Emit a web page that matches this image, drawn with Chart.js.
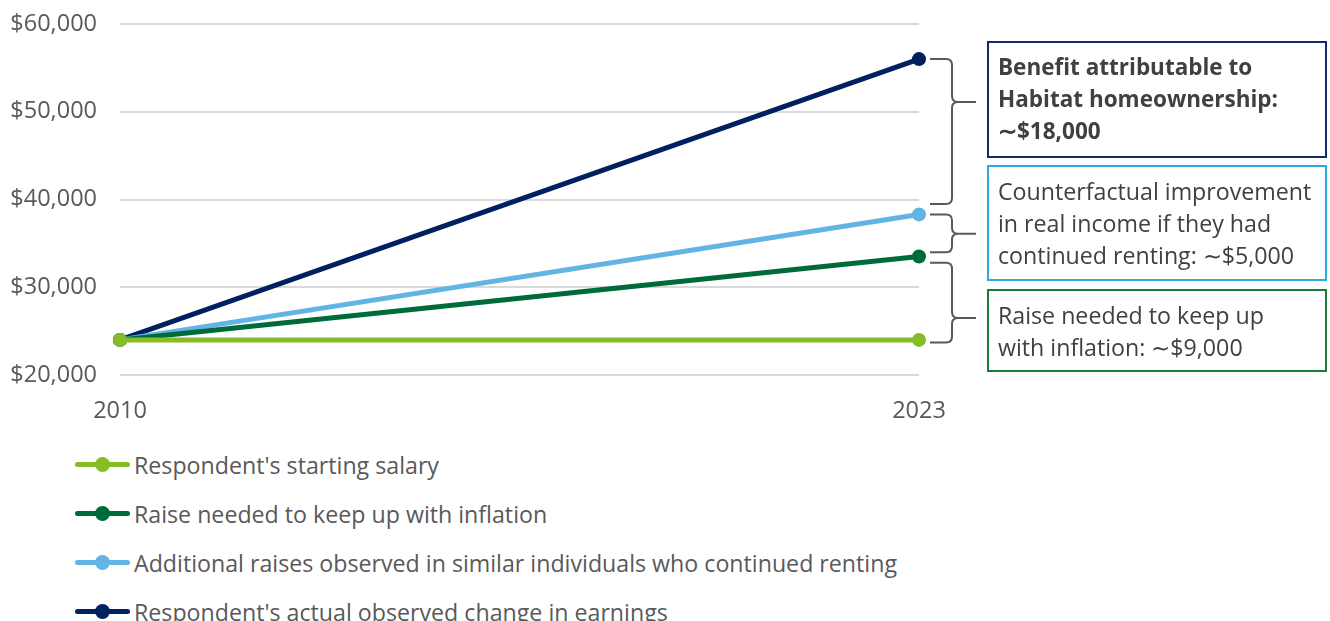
<!DOCTYPE html>
<html>
<head>
<meta charset="utf-8">
<script src="https://cdn.jsdelivr.net/npm/chart.js@4"></script>
<style>
  html, body { margin: 0; padding: 0; background: #fff; }
  body { width: 1330px; height: 621px; position: relative; overflow: hidden; font-family: "Open Sans", "Noto Sans", sans-serif; }
  #wrap { position: absolute; left: 0; top: 0; width: 1330px; height: 430px; }
  .box { position: absolute; left: 987px; width: 340px; box-sizing: border-box; padding: 8px 0 0 9px;
         font-size: 23.2px; line-height: 32px; color: #404040; white-space: nowrap; }
  #legend { position: absolute; left: 75px; top: 440px; font-size: 23.2px; color: #595959; }
  .item { height: 49px; display: flex; align-items: center; }
  .item .mk { position: relative; width: 55px; height: 5px; border-radius: 3px; margin-right: 4px; }
  .item .mk span { position: absolute; left: 20px; top: -5px; width: 15px; height: 15px; border-radius: 50%; }
</style>
</head>
<body>
<div id="wrap"><canvas id="myChart"></canvas></div>

<div class="box" style="top:41px;height:117px;border:2px solid #13296b;font-weight:bold;font-size:22.5px;">
  Benefit attributable to<br>Habitat homeownership:<br>∼$18,000
</div>
<div class="box" style="top:165px;height:116px;border:2px solid #29abe2;">
  Counterfactual improvement<br>in real income if they had<br>continued renting: ∼$5,000
</div>
<div class="box" style="top:289px;height:83px;border:2px solid #1d7a3e;">
  Raise needed to keep up<br>with inflation: ∼$9,000
</div>

<div id="legend"></div>

<script>
// data
const years = ['2010', '2023'];
const startingSalary = [24000, 24000];
const inflationRaise = [24000, 33500];
const renterRaise = [24000, 38300];
const actualEarnings = [24000, 56000];
const yTicks = [20000, 30000, 40000, 50000, 60000];

const seriesNames = [
    "Respondent's starting salary",
    "Raise needed to keep up with inflation",
    "Additional raises observed in similar individuals who continued renting",
    "Respondent's actual observed change in earnings"
];
const seriesColors = ['#86bc25', '#006b3a', '#62b4e4', '#002060'];

// braces on the right: [top value, bottom value, tip value]
const braces = [
    [56000, 39500, 51100],
    [38300, 34000, 36100],
    [32800, 23700, 26500]
];

function makeSet(i, values) {
    return {
        label: seriesNames[i],
        data: values,
        borderColor: seriesColors[i],
        backgroundColor: seriesColors[i],
        borderWidth: 5,
        pointRadius: 7,
        pointHoverRadius: 7,
        pointBorderWidth: 0,
        tension: 0
    };
}

// draws curly braces next to the 2023 points
const bracePlugin = {
    id: 'braces',
    afterDraw(chart) {
        const c = chart.ctx;
        const y = chart.scales.y;
        const x0 = chart.chartArea.right + 11;
        const xv = x0 + 22;
        const xt = xv + 24;
        const r = 6;
        c.save();
        c.strokeStyle = '#595959';
        c.lineWidth = 2;
        braces.forEach(b => {
            const top = y.getPixelForValue(b[0]);
            const bot = y.getPixelForValue(b[1]);
            const tip = y.getPixelForValue(b[2]);
            c.beginPath();
            c.moveTo(x0, top);
            c.lineTo(xv - r, top);
            c.quadraticCurveTo(xv, top, xv, top + r);
            c.lineTo(xv, tip - r);
            c.quadraticCurveTo(xv, tip, xv + r, tip);
            c.lineTo(xt, tip);
            c.moveTo(xv + r, tip);
            c.quadraticCurveTo(xv, tip, xv, tip + r);
            c.lineTo(xv, bot - r);
            c.quadraticCurveTo(xv, bot, xv - r, bot);
            c.lineTo(x0, bot);
            c.stroke();
        });
        c.restore();
    }
};

const ctx = document.getElementById('myChart');
new Chart(ctx, {
    type: 'line',
    data: {
        labels: years,
        datasets: [
            makeSet(0, startingSalary),
            makeSet(1, inflationRaise),
            makeSet(2, renterRaise),
            makeSet(3, actualEarnings)
        ]
    },
    options: {
        responsive: true,
        maintainAspectRatio: false,
        animation: false,
        layout: { padding: { top: 24, right: 411, left: 0, bottom: 0 } },
        scales: {
            y: {
                min: yTicks[0],
                max: yTicks[yTicks.length - 1],
                afterBuildTicks: s => { s.ticks = yTicks.map(v => ({ value: v })); },
                afterFit: s => { s.width = 120; s.paddingTop = 0; s.paddingBottom = 0; },
                border: { display: false },
                grid: { color: '#d9d9d9', lineWidth: 2, drawTicks: false },
                ticks: {
                    padding: 23,
                    color: '#595959',
                    font: { family: 'Open Sans', size: 23.5 },
                    callback: v => '$' + v.toLocaleString('en-US')
                }
            },
            x: {
                offset: false,
                afterFit: s => { s.height = 55; },
                border: { display: false },
                grid: { display: false, drawTicks: false },
                ticks: {
                    padding: 22,
                    color: '#595959',
                    maxRotation: 0,
                    font: { family: 'Open Sans', size: 23.5 }
                }
            }
        },
        plugins: {
            legend: { display: false },
            tooltip: { enabled: false }
        }
    },
    plugins: [bracePlugin]
});

// legend in html, one row per series
const lg = document.getElementById('legend');
seriesNames.forEach((name, i) => {
    const row = document.createElement('div');
    row.className = 'item';
    row.innerHTML = '<div class="mk" style="background:' + seriesColors[i] + '"><span style="background:' +
        seriesColors[i] + '"></span></div><div>' + name + '</div>';
    lg.appendChild(row);
});
</script>
</body>
</html>
